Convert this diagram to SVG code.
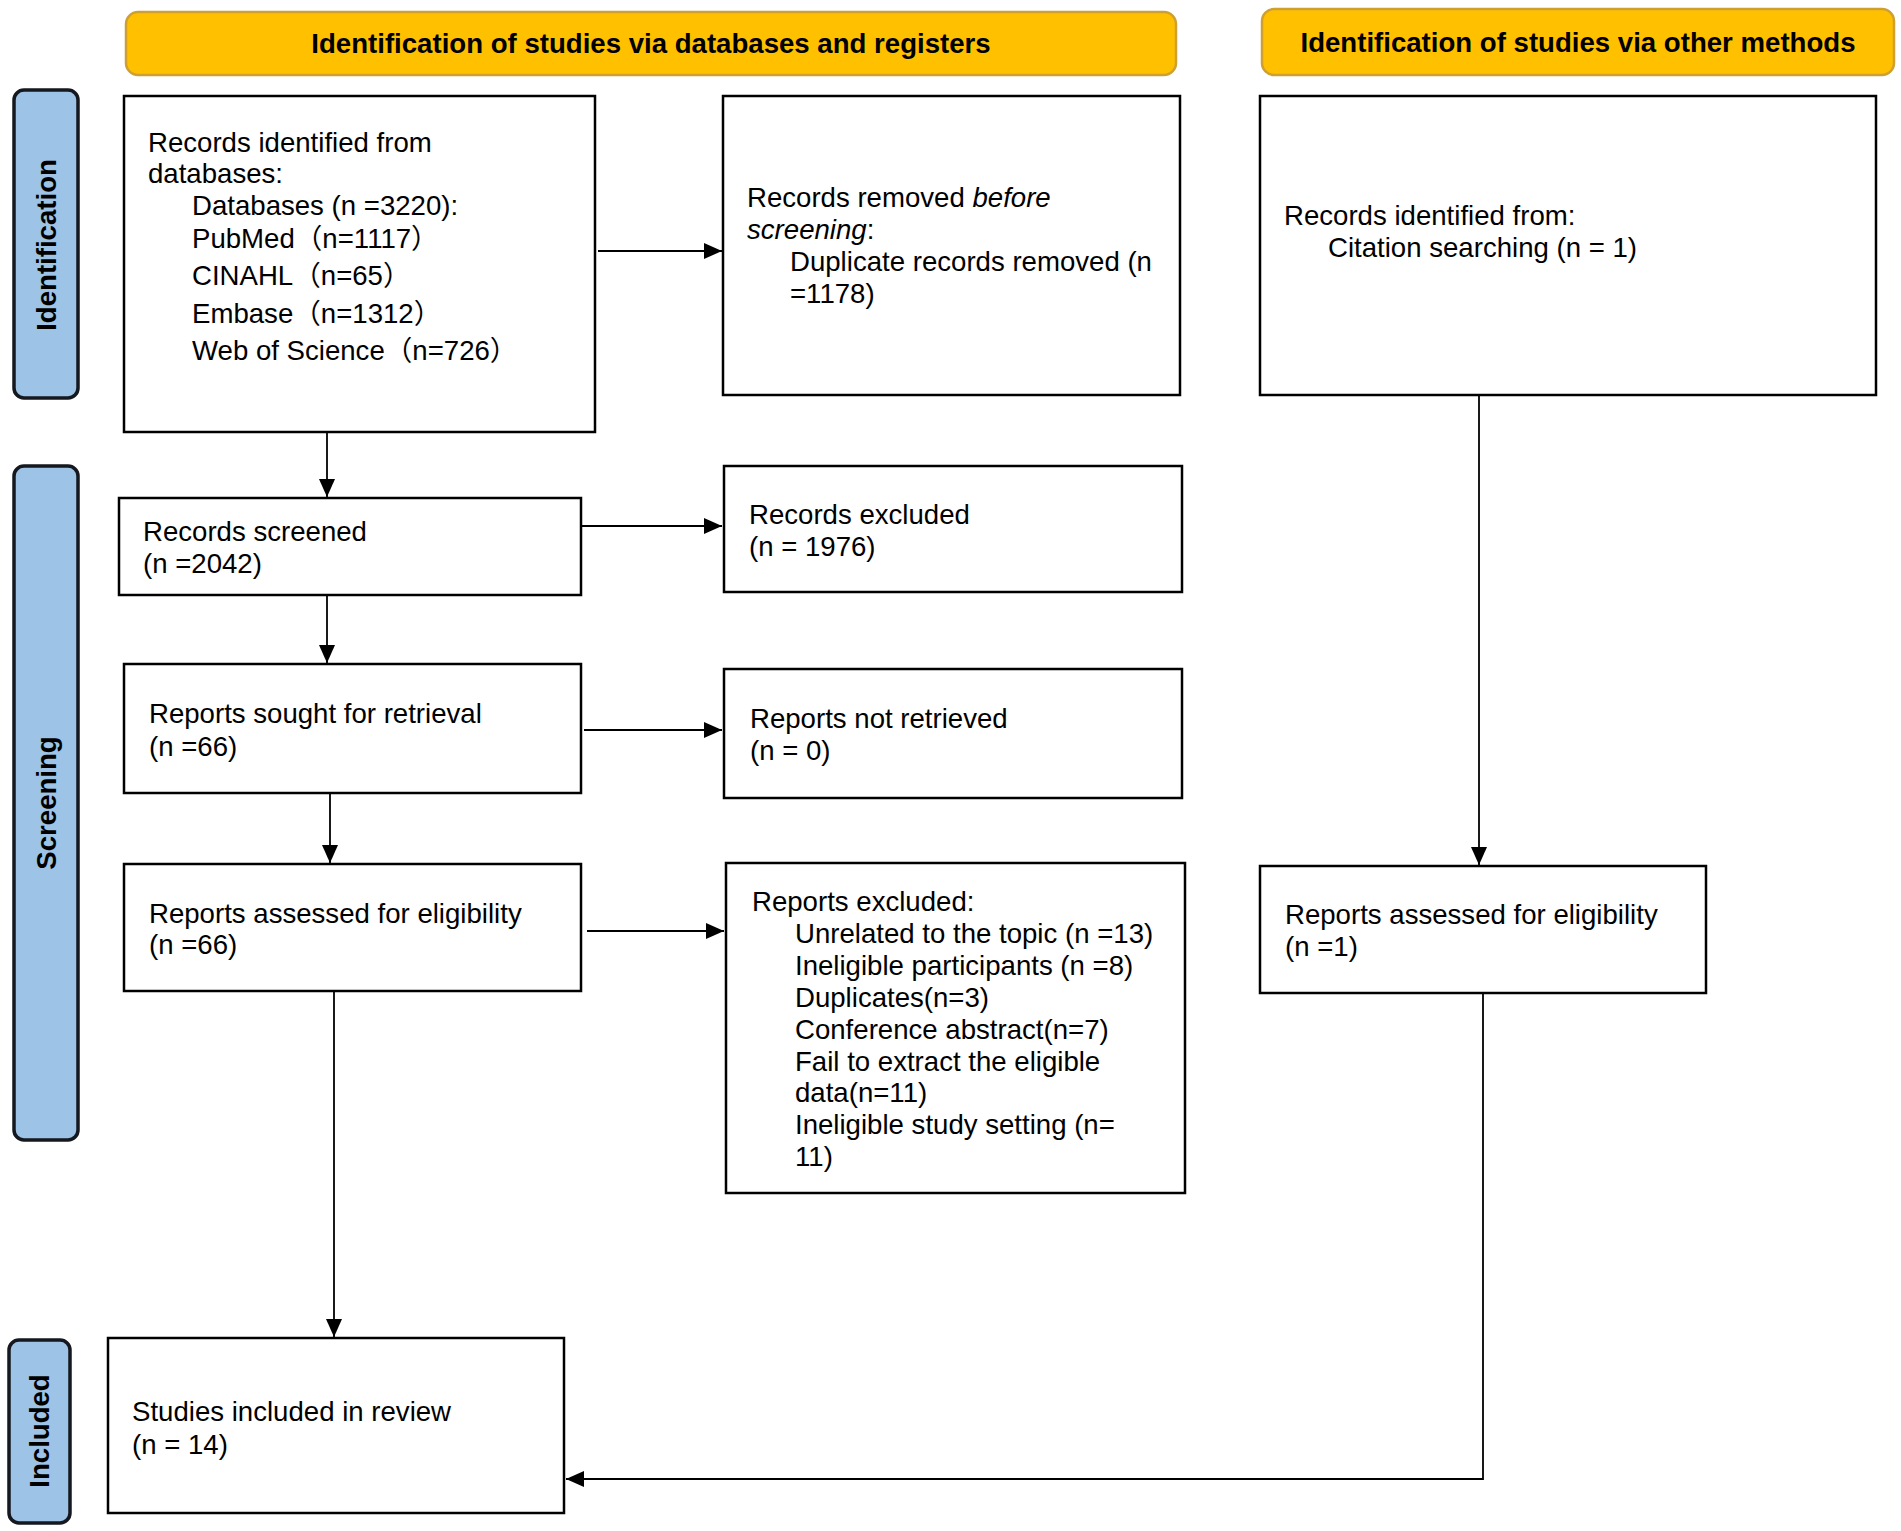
<svg xmlns="http://www.w3.org/2000/svg" width="1901" height="1531" viewBox="0 0 1901 1531">
<defs>
<style>
.hdr{fill:#FFC000;stroke:#CFA030;stroke-width:2.5}
.side{fill:#9DC3E6;stroke:#15181F;stroke-width:3.5}
.box{fill:#fff;stroke:#000;stroke-width:2.5}
.t{font-family:"Liberation Sans",Arial,"Noto Sans CJK SC",sans-serif;font-size:27.6px;fill:#000}
.b{font-family:"Liberation Sans",Arial,sans-serif;font-size:27.6px;font-weight:bold;fill:#000}
.c{stroke:#000;stroke-width:1.8;fill:none}
</style>
<marker id="ar" markerWidth="18" markerHeight="16" refX="18" refY="8" orient="auto" markerUnits="userSpaceOnUse">
<path d="M0,0 L18,8 L0,16 Z" fill="#000"/>
</marker>
</defs>
<rect width="1901" height="1531" fill="#fff"/>

<g id="header-databases">
<rect class="hdr" x="126" y="12" width="1050" height="63" rx="12"/>
<text class="b" x="651" y="53" text-anchor="middle">Identification of studies via databases and registers</text>
</g>
<g id="header-other">
<rect class="hdr" x="1262" y="9" width="632" height="66" rx="12"/>
<text class="b" x="1578" y="52" text-anchor="middle">Identification of studies via other methods</text>
</g>

<g id="phase-identification">
<rect class="side" x="14" y="90" width="64" height="308" rx="10"/>
<text class="b" transform="translate(46,245) rotate(-90)" x="0" y="10" text-anchor="middle">Identification</text>
</g>
<g id="phase-screening">
<rect class="side" x="14" y="466" width="64" height="674" rx="10"/>
<text class="b" transform="translate(46,803) rotate(-90)" x="0" y="10" text-anchor="middle">Screening</text>
</g>
<g id="phase-included">
<rect class="side" x="9" y="1340" width="61" height="183" rx="10"/>
<text class="b" transform="translate(39,1431) rotate(-90)" x="0" y="10" text-anchor="middle">Included</text>
</g>

<g id="records-identified">
<rect class="box" x="124" y="96" width="471" height="336"/>
<text class="t" x="148" y="152">Records identified from</text>
<text class="t" x="148" y="183">databases:</text>
<text class="t" x="192" y="215">Databases (n =3220):</text>
<text class="t" x="192" y="248">PubMed（n=1117）</text>
<text class="t" x="192" y="285">CINAHL（n=65）</text>
<text class="t" x="192" y="323">Embase（n=1312）</text>
<text class="t" x="192" y="360">Web of Science（n=726）</text>
</g>

<g id="records-removed">
<rect class="box" x="723" y="96" width="457" height="299"/>
<text class="t" x="747" y="207">Records removed <tspan font-style="italic">before</tspan></text>
<text class="t" x="747" y="239"><tspan font-style="italic">screening</tspan>:</text>
<text class="t" x="790" y="271">Duplicate records removed (n</text>
<text class="t" x="790" y="303">=1178)</text>
</g>

<g id="other-records">
<rect class="box" x="1260" y="96" width="616" height="299"/>
<text class="t" x="1284" y="225">Records identified from:</text>
<text class="t" x="1328" y="257">Citation searching (n = 1)</text>
</g>

<g id="records-screened">
<rect class="box" x="119" y="498" width="462" height="97"/>
<text class="t" x="143" y="541">Records screened</text>
<text class="t" x="143" y="573">(n =2042)</text>
</g>

<g id="records-excluded">
<rect class="box" x="724" y="466" width="458" height="126"/>
<text class="t" x="749" y="524">Records excluded</text>
<text class="t" x="749" y="556">(n = 1976)</text>
</g>

<g id="reports-sought">
<rect class="box" x="124" y="664" width="457" height="129"/>
<text class="t" x="149" y="723">Reports sought for retrieval</text>
<text class="t" x="149" y="756">(n =66)</text>
</g>

<g id="reports-not-retrieved">
<rect class="box" x="724" y="669" width="458" height="129"/>
<text class="t" x="750" y="728">Reports not retrieved</text>
<text class="t" x="750" y="760">(n = 0)</text>
</g>

<g id="reports-assessed">
<rect class="box" x="124" y="864" width="457" height="127"/>
<text class="t" x="149" y="923">Reports assessed for eligibility</text>
<text class="t" x="149" y="954">(n =66)</text>
</g>

<g id="reports-excluded">
<rect class="box" x="726" y="863" width="459" height="330"/>
<text class="t" x="752" y="911">Reports excluded:</text>
<text class="t" x="795" y="943">Unrelated to the topic (n =13)</text>
<text class="t" x="795" y="975">Ineligible participants (n =8)</text>
<text class="t" x="795" y="1007">Duplicates(n=3)</text>
<text class="t" x="795" y="1039">Conference abstract(n=7)</text>
<text class="t" x="795" y="1071">Fail to extract the eligible</text>
<text class="t" x="795" y="1102">data(n=11)</text>
<text class="t" x="795" y="1134">Ineligible study setting (n=</text>
<text class="t" x="795" y="1166">11)</text>
</g>

<g id="other-assessed">
<rect class="box" x="1260" y="866" width="446" height="127"/>
<text class="t" x="1285" y="924">Reports assessed for eligibility</text>
<text class="t" x="1285" y="956">(n =1)</text>
</g>

<g id="studies-included">
<rect class="box" x="108" y="1338" width="456" height="175"/>
<text class="t" x="132" y="1421">Studies included in review</text>
<text class="t" x="132" y="1454">(n = 14)</text>
</g>

<g id="connectors">
<line class="c" x1="598" y1="251" x2="722" y2="251" marker-end="url(#ar)"/>
<line class="c" x1="327" y1="432" x2="327" y2="497" marker-end="url(#ar)"/>
<line class="c" x1="582" y1="526" x2="722" y2="526" marker-end="url(#ar)"/>
<line class="c" x1="327" y1="595" x2="327" y2="663" marker-end="url(#ar)"/>
<line class="c" x1="584" y1="730" x2="722" y2="730" marker-end="url(#ar)"/>
<line class="c" x1="330" y1="793" x2="330" y2="863" marker-end="url(#ar)"/>
<line class="c" x1="587" y1="931" x2="724" y2="931" marker-end="url(#ar)"/>
<line class="c" x1="334" y1="991" x2="334" y2="1337" marker-end="url(#ar)"/>
<line class="c" x1="1479" y1="395" x2="1479" y2="865" marker-end="url(#ar)"/>
<polyline class="c" points="1483,993 1483,1479 566,1479" marker-end="url(#ar)"/>
</g>
</svg>
